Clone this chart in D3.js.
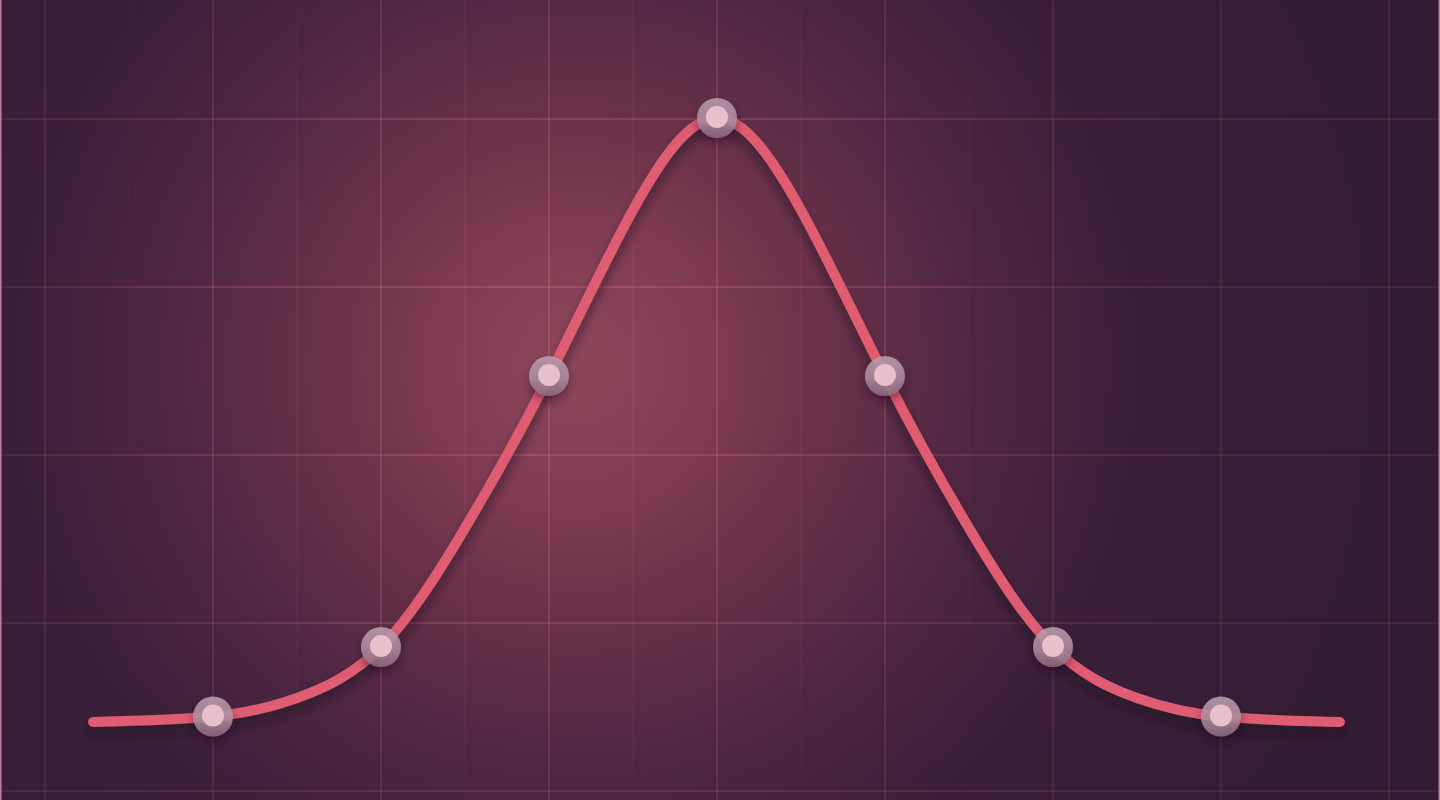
<!DOCTYPE html>
<html>
<head>
<meta charset="utf-8">
<script src="https://cdn.jsdelivr.net/npm/d3@7"></script>
<style>
  html, body { margin: 0; padding: 0; background: #351c35; overflow: hidden; }
  svg { display: block; }
</style>
</head>
<body>
<svg id="chart" width="1440" height="800"></svg>
<script>
// ---- data (in grid units) ----
const curveX = [-3.714, -3, -2.5, -2, -1.5, -1, -0.5, 0, 0.5, 1, 1.5, 2, 2.5, 3, 3.708];
const curveY = [0.411, 0.443, 0.554, 0.857, 1.565, 2.470, 3.458, 4.006, 3.458, 2.470, 1.565, 0.857, 0.554, 0.443, 0.411];
const markerX = [-3, -2, -1, 0, 1, 2, 3];
const markerY = [0.443, 0.857, 2.470, 4.006, 2.470, 0.857, 0.443];
const majorXTicks = [-4, -3, -2, -1, 0, 1, 2, 3, 4];
const minorXTicks = [-3.5, -2.5, -1.5, -0.5, 0.5, 1.5, 2.5, 3.5];
const yTicks = [0, 1, 2, 3, 4];

const W = 1440, H = 800;
const svg = d3.select("#chart");
const x = d3.scaleLinear().domain([-4, 4]).range([45, 1389]);
const y = d3.scaleLinear().domain([0, 4]).range([791, 119]);

const defs = svg.append("defs");

// background glow
const bg = defs.append("radialGradient").attr("id", "bg")
  .attr("gradientUnits", "userSpaceOnUse")
  .attr("cx", 575).attr("cy", 365).attr("r", 820);
[[0, "#8c465a"], [0.12, "#853f55"], [0.3, "#6b3249"], [0.5, "#4d2641"], [0.68, "#3b1f39"], [1, "#341b34"]]
  .forEach(([o, c]) => bg.append("stop").attr("offset", o).attr("stop-color", c));

// mask for brighter grid in centre
const gm = defs.append("radialGradient").attr("id", "gm")
  .attr("gradientUnits", "userSpaceOnUse")
  .attr("cx", 560).attr("cy", 360).attr("r", 600);
[[0, "#fff", 1], [0.5, "#fff", 0.6], [1, "#fff", 0]]
  .forEach(([o, c, a]) => gm.append("stop").attr("offset", o).attr("stop-color", c).attr("stop-opacity", a));
defs.append("mask").attr("id", "gridMask")
  .append("rect").attr("width", W).attr("height", H).attr("fill", "url(#gm)");

// halo gradient
const hg = defs.append("linearGradient").attr("id", "halo")
  .attr("x1", 0).attr("y1", 0).attr("x2", 0).attr("y2", 1);
[[0, "#b99bad"], [0.55, "#ac8c9f"], [1, "#8a6579"]]
  .forEach(([o, c]) => hg.append("stop").attr("offset", o).attr("stop-color", c));

const sh = defs.append("filter").attr("id", "shadow")
  .attr("x", "-10%").attr("y", "-10%").attr("width", "120%").attr("height", "130%");
sh.append("feDropShadow").attr("dx", 0).attr("dy", 8).attr("stdDeviation", 5)
  .attr("flood-color", "#220c22").attr("flood-opacity", 0.55);

const ps = defs.append("filter").attr("id", "pshadow")
  .attr("x", "-50%").attr("y", "-50%").attr("width", "200%").attr("height", "220%");
ps.append("feDropShadow").attr("dx", 0).attr("dy", 5).attr("stdDeviation", 4)
  .attr("flood-color", "#220c22").attr("flood-opacity", 0.45);

// background
svg.append("rect").attr("width", W).attr("height", H).attr("fill", "url(#bg)");
svg.append("rect").attr("width", 45).attr("height", H).attr("fill", "#3a1f3a").attr("opacity", 0.55);

function drawGrid(g, majOp, minOp) {
  g.selectAll(".vmaj").data(majorXTicks).join("line")
    .attr("x1", d => x(d)).attr("x2", d => x(d)).attr("y1", 0).attr("y2", H)
    .attr("stroke", "#d9728f").attr("stroke-opacity", majOp).attr("stroke-width", 1.3);
  g.selectAll(".vmin").data(minorXTicks).join("line")
    .attr("x1", d => x(d)).attr("x2", d => x(d)).attr("y1", 0).attr("y2", H)
    .attr("stroke", "#d9728f").attr("stroke-opacity", minOp).attr("stroke-width", 1.2);
  g.selectAll(".h").data(yTicks).join("line")
    .attr("y1", d => y(d)).attr("y2", d => y(d)).attr("x1", 0).attr("x2", W)
    .attr("stroke", "#d9728f").attr("stroke-opacity", majOp).attr("stroke-width", 1.3);
}
svg.append("g").call(drawGrid, 0.17, 0.0);
svg.append("g").attr("mask", "url(#gridMask)").append("g").call(drawGrid, 0.3, 0.16);

// edges
svg.append("line").attr("x1", 0.75).attr("x2", 0.75).attr("y1", 0).attr("y2", H)
  .attr("stroke", "#b7809a").attr("stroke-width", 1.5);
svg.append("line").attr("x1", W - 0.75).attr("x2", W - 0.75).attr("y1", 0).attr("y2", H)
  .attr("stroke", "#b7809a").attr("stroke-width", 1.5);

// curve
const pts = curveX.map((d, i) => [d, curveY[i]]);
const line = d3.line().x(d => x(d[0])).y(d => y(d[1])).curve(d3.curveNatural);
svg.append("path").datum(pts)
  .attr("d", line)
  .attr("fill", "none")
  .attr("stroke", "#e05c72")
  .attr("stroke-width", 10)
  .attr("stroke-linecap", "round")
  .attr("filter", "url(#shadow)");

// markers
const m = svg.append("g").selectAll("g").data(markerX.map((d, i) => [d, markerY[i]])).join("g")
  .attr("transform", d => `translate(${x(d[0])},${y(d[1])})`);
m.append("circle").attr("r", 20).attr("fill", "url(#halo)").attr("opacity", 0.9)
  .attr("filter", "url(#pshadow)");
m.append("circle").attr("r", 11).attr("cy", -1).attr("fill", "#e8c0cc");
</script>
</body>
</html>
